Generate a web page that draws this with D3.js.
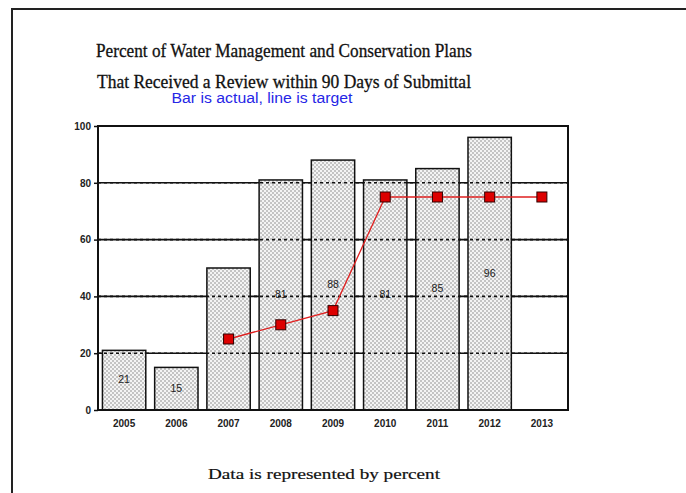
<!DOCTYPE html>
<html>
<head>
<meta charset="utf-8">
<script src="https://cdn.jsdelivr.net/npm/d3@7"></script>
<style>
  html, body { margin: 0; padding: 0; background: #fff; }
  svg { display: block; }
</style>
</head>
<body>
<svg id="chart" width="686" height="493"></svg>
<script>
// Fiscal years, actual review rate (bars) and target (line)
const years = ["2005", "2006", "2007", "2008", "2009", "2010", "2011", "2012", "2013"];
const actual = [21, 15, 50, 81, 88, 81, 85, 96, null];
const target = [null, null, 25, 30, 35, 75, 75, 75, 75];
const yTicks = [0, 20, 40, 60, 80, 100];

const titleLines = [
  "Percent of Water Management and Conservation Plans",
  "That Received a Review within 90 Days of Submittal"
];
const subtitle = "Bar is actual, line is target";
const footnote = "Data is represented by percent";

const svg = d3.select("#chart");
const plot = { left: 98, top: 126, right: 568, bottom: 410 };

const x = d3.scaleBand().domain(years).range([plot.left, plot.right]).paddingInner(0.17).paddingOuter(0.085);
const y = d3.scaleLinear().domain([0, 100]).range([plot.bottom, plot.top]);

// Hatched fill for the bars
const defs = svg.append("defs");
const pat = defs.append("pattern").attr("id", "hatch").attr("patternUnits", "userSpaceOnUse")
  .attr("width", 4).attr("height", 4);
pat.append("rect").attr("width", 4).attr("height", 4).attr("fill", "#f4f4f4");
pat.append("rect").attr("x", 0).attr("y", 0).attr("width", 2).attr("height", 2).attr("fill", "#c4c4c4");
pat.append("rect").attr("x", 2).attr("y", 2).attr("width", 2).attr("height", 2).attr("fill", "#c4c4c4");

// Page frame
svg.append("rect").attr("x", 12).attr("y", 9).attr("width", 700).attr("height", 520)
  .attr("fill", "none").attr("stroke", "#222").attr("stroke-width", 2);

// Titles
svg.append("g").selectAll("text").data(titleLines).join("text")
  .attr("x", 284).attr("y", (d, i) => 57 + i * 31)
  .attr("text-anchor", "middle")
  .attr("font-family", "'Liberation Serif', 'Times New Roman', serif")
  .attr("font-size", 19).attr("fill", "#111")
  .attr("stroke", "#111").attr("stroke-width", 0.3)
  .attr("textLength", (d, i) => i === 0 ? 376 : 374).attr("lengthAdjust", "spacingAndGlyphs")
  .text(d => d);

svg.append("text").attr("x", 262).attr("y", 103).attr("text-anchor", "middle")
  .attr("font-family", "'Liberation Sans', Arial, sans-serif").attr("font-size", 14)
  .attr("fill", "#2626e6").attr("textLength", 181).attr("lengthAdjust", "spacingAndGlyphs")
  .text(subtitle);

// Solid gridlines behind the bars
const gridVals = yTicks.filter(v => v > 0 && v < 100);
svg.append("g").selectAll("line").data(gridVals).join("line")
  .attr("x1", plot.left).attr("x2", plot.right)
  .attr("y1", d => y(d)).attr("y2", d => y(d))
  .attr("stroke", "#111").attr("stroke-width", 1.6);

// Bars
const barData = years.map((yr, i) => ({ yr, v: actual[i] })).filter(d => d.v != null);
svg.append("g").selectAll("rect").data(barData).join("rect")
  .attr("x", d => x(d.yr)).attr("width", x.bandwidth())
  .attr("y", d => y(d.v)).attr("height", d => y(0) - y(d.v))
  .attr("fill", "url(#hatch)").attr("stroke", "#111").attr("stroke-width", 1.5);

// Dashed gridlines drawn over the bars
svg.append("g").selectAll("line").data(gridVals).join("line")
  .attr("x1", plot.left).attr("x2", plot.right)
  .attr("y1", d => y(d)).attr("y2", d => y(d))
  .attr("stroke", "#111").attr("stroke-width", 1.6).attr("stroke-dasharray", "3,3");

// Value labels at mid-bar
svg.append("g").selectAll("text").data(barData).join("text")
  .attr("x", d => x(d.yr) + x.bandwidth() / 2)
  .attr("y", d => (y(d.v) + y(0)) / 2 + 3)
  .attr("text-anchor", "middle")
  .attr("font-family", "'Liberation Sans', Arial, sans-serif").attr("font-size", 10.5)
  .attr("fill", "#222").text(d => d.v);

// Plot frame
svg.append("rect").attr("x", plot.left).attr("y", plot.top)
  .attr("width", plot.right - plot.left).attr("height", plot.bottom - plot.top)
  .attr("fill", "none").attr("stroke", "#111").attr("stroke-width", 2);

// Y axis
const yAxis = svg.append("g").attr("transform", `translate(${plot.left},0)`)
  .call(d3.axisLeft(y).tickValues(yTicks).tickSize(4).tickPadding(3));
yAxis.select(".domain").remove();
yAxis.selectAll("line").attr("stroke", "#111").attr("stroke-width", 1.5);
yAxis.selectAll("text").attr("font-family", "'Liberation Sans', Arial, sans-serif")
  .attr("font-size", 10).attr("font-weight", "bold").attr("fill", "#222");

// X axis
const xAxis = svg.append("g").attr("transform", `translate(0,${plot.bottom})`)
  .call(d3.axisBottom(x).tickSize(0).tickPadding(10));
xAxis.select(".domain").remove();
xAxis.selectAll("text").attr("font-family", "'Liberation Sans', Arial, sans-serif")
  .attr("font-size", 10).attr("font-weight", "bold").attr("fill", "#222");

// Target line with square markers
const tData = years.map((yr, i) => ({ yr, v: target[i] })).filter(d => d.v != null);
const cx = d => x(d.yr) + x.bandwidth() / 2;
svg.append("path").datum(tData)
  .attr("d", d3.line().x(cx).y(d => y(d.v)))
  .attr("fill", "none").attr("stroke", "#e02020").attr("stroke-width", 1.3);
svg.append("g").selectAll("rect").data(tData).join("rect")
  .attr("x", d => cx(d) - 5).attr("y", d => y(d.v) - 5)
  .attr("width", 10).attr("height", 10)
  .attr("fill", "#dd0000").attr("stroke", "#300").attr("stroke-width", 1);

// Footnote
svg.append("text").attr("x", 324).attr("y", 479).attr("text-anchor", "middle")
  .attr("font-family", "'Liberation Serif', 'Times New Roman', serif").attr("font-size", 15)
  .attr("fill", "#111").attr("stroke", "#111").attr("stroke-width", 0.2)
  .attr("textLength", 232).attr("lengthAdjust", "spacingAndGlyphs")
  .text(footnote);
</script>
</body>
</html>
